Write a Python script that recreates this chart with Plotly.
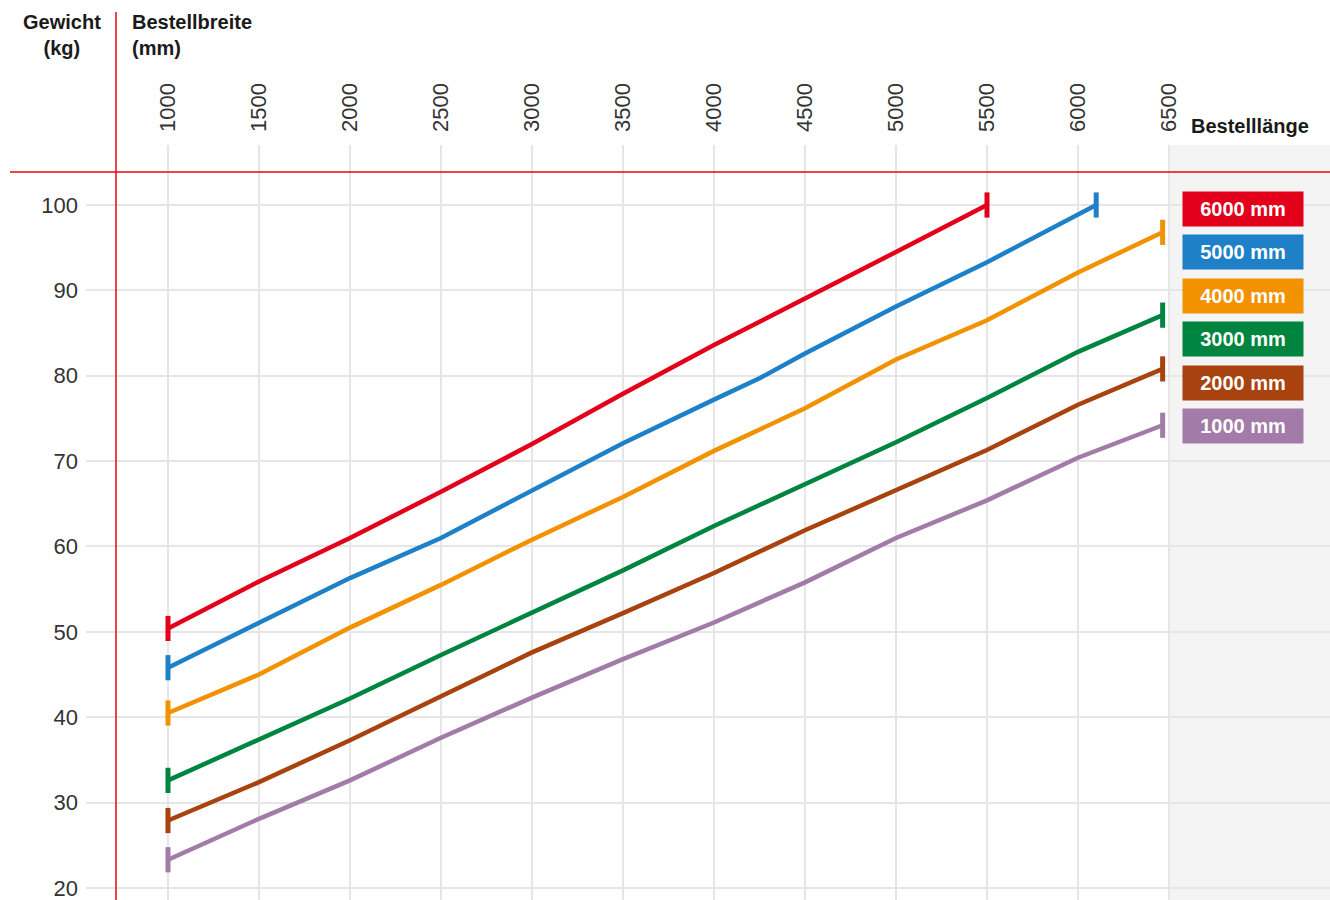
import plotly.graph_objects as go

# ---------------- data ----------------
tick_widths = [1000, 1500, 2000, 2500, 3000, 3500, 4000, 4500, 5000, 5500, 6000, 6500]
weight_ticks = [20, 30, 40, 50, 60, 70, 80, 90, 100]

series_names = ["6000 mm", "5000 mm", "4000 mm", "3000 mm", "2000 mm", "1000 mm"]
series_colors = ["#e2001a", "#1e80c6", "#f29200", "#008540", "#a8420e", "#a27ba9"]

breite_6000 = [1000, 1500, 2000, 2500, 3000, 3500, 4000, 4500, 5000, 5500]
gewicht_6000 = [50.4, 55.9, 61.0, 66.4, 72.0, 77.9, 83.6, 89.0, 94.5, 100.0]

breite_5000 = [1000, 1500, 2000, 2500, 3000, 3500, 4000, 4250, 4500, 5000, 5500, 6000, 6100]
gewicht_5000 = [45.8, 51.1, 56.3, 61.0, 66.6, 72.1, 77.2, 79.7, 82.6, 88.1, 93.3, 98.9, 100.0]

breite_4000 = [1000, 1500, 2000, 2500, 3000, 3500, 4000, 4500, 5000, 5500, 6000, 6465]
gewicht_4000 = [40.5, 45.0, 50.5, 55.5, 60.8, 65.8, 71.2, 76.2, 81.9, 86.5, 92.1, 96.8]

breite_3000 = [1000, 1500, 2000, 2500, 3000, 3500, 4000, 4500, 5000, 5500, 6000, 6465]
gewicht_3000 = [32.6, 37.4, 42.2, 47.3, 52.3, 57.2, 62.4, 67.3, 72.2, 77.4, 82.8, 87.1]

breite_2000 = [1000, 1500, 2000, 2500, 3000, 3500, 4000, 4500, 5000, 5500, 6000, 6465]
gewicht_2000 = [27.9, 32.4, 37.3, 42.5, 47.6, 52.2, 56.9, 61.9, 66.6, 71.3, 76.6, 80.8]

breite_1000 = [1000, 1500, 2000, 2500, 3000, 3500, 4000, 4500, 5000, 5500, 6000, 6465]
gewicht_1000 = [23.3, 28.1, 32.6, 37.6, 42.3, 46.8, 51.1, 55.8, 61.0, 65.4, 70.4, 74.2]

series_x = [breite_6000, breite_5000, breite_4000, breite_3000, breite_2000, breite_1000]
series_y = [gewicht_6000, gewicht_5000, gewicht_4000, gewicht_3000, gewicht_2000, gewicht_1000]

# ---------------- layout helpers ----------------
W, H = 1330, 900
L, R, T, B = 86, 0, 145, 0
PW, PH = W - L - R, H - T - B


def px(x):
    return (x - L) / PW


def py(y):
    return (H - B - y) / PH


X_RANGE = [549.5, 7384.6]
Y_RANGE = [18.59, 107.03]
FONT = "Liberation Sans, Arial, Helvetica, sans-serif"
RED = "#e30613"

fig = go.Figure()

for name, color, xs, ys in zip(series_names, series_colors, series_x, series_y):
    fig.add_trace(go.Scatter(
        x=xs, y=ys, mode="lines", name=name,
        line=dict(color=color, width=4.5),
        hoverinfo="x+y+name", showlegend=False,
    ))
    fig.add_trace(go.Scatter(
        x=[xs[0], xs[-1]], y=[ys[0], ys[-1]], mode="markers",
        marker=dict(symbol="line-ns", size=18, line=dict(color=color, width=5)),
        hoverinfo="skip", showlegend=False,
    ))

shapes = [
    # grey area right of 6500
    dict(type="rect", xref="x", yref="paper", x0=6500, x1=X_RANGE[1], y0=0, y1=1,
         fillcolor="#f4f4f4", line=dict(width=0), layer="below"),
    # red header rule
    dict(type="line", xref="paper", yref="paper", x0=px(10), x1=1.0, y0=py(172), y1=py(172),
         line=dict(color=RED, width=1.5)),
    # red vertical rule
    dict(type="line", xref="paper", yref="paper", x0=px(116), x1=px(116), y0=py(12), y1=0,
         line=dict(color=RED, width=1.5)),
]

annotations = [
    dict(text="<b>Gewicht<br>(kg)</b>", xref="paper", yref="paper", x=px(62), y=py(9),
         xanchor="center", yanchor="top", align="center", showarrow=False,
         font=dict(family=FONT, size=20, color="#1a1a1a")),
    dict(text="<b>Bestellbreite<br>(mm)</b>", xref="paper", yref="paper", x=px(130), y=py(9),
         xanchor="left", yanchor="top", align="left", showarrow=False,
         font=dict(family=FONT, size=20, color="#1a1a1a")),
    dict(text="<b>Bestelllänge</b>", xref="paper", yref="paper", x=px(1189), y=py(126),
         xanchor="left", yanchor="middle", align="left", showarrow=False,
         font=dict(family=FONT, size=20, color="#1a1a1a")),
]

for i, (name, color) in enumerate(zip(series_names, series_colors)):
    annotations.append(dict(
        text=f"<b>{name}</b>", xref="paper", yref="paper",
        x=px(1243), y=py(209 + i * 43.4), xanchor="center", yanchor="middle",
        width=120, height=34, bgcolor=color, borderpad=0, showarrow=False,
        font=dict(family=FONT, size=20, color="white"),
    ))

fig.update_layout(
    width=W, height=H,
    margin=dict(l=L, r=R, t=T, b=B, pad=0),
    paper_bgcolor="white", plot_bgcolor="white",
    font=dict(family=FONT, size=22, color="#333333"),
    shapes=shapes, annotations=annotations,
    showlegend=False,
    xaxis=dict(
        side="top", range=X_RANGE, tickmode="array", tickvals=tick_widths,
        ticktext=[str(v) for v in tick_widths], tickangle=-90,
        showgrid=True, gridcolor="#e6e6e6", gridwidth=1.5,
        zeroline=False, showline=False, ticks="", ticklabelstandoff=12,
        ticklabeloverflow="allow",
        tickfont=dict(family=FONT, size=22, color="#333333"), fixedrange=True,
    ),
    yaxis=dict(
        range=Y_RANGE, tickmode="array", tickvals=weight_ticks,
        ticktext=[str(v) for v in weight_ticks],
        showgrid=True, gridcolor="#e6e6e6", gridwidth=1.5,
        zeroline=False, showline=False, ticks="", ticklabelstandoff=7,
        ticklabeloverflow="allow",
        tickfont=dict(family=FONT, size=22, color="#333333"), fixedrange=True,
    ),
)

fig.write_html("out.html", config={"displayModeBar": False},
               post_script="document.body.style.margin='0';")
